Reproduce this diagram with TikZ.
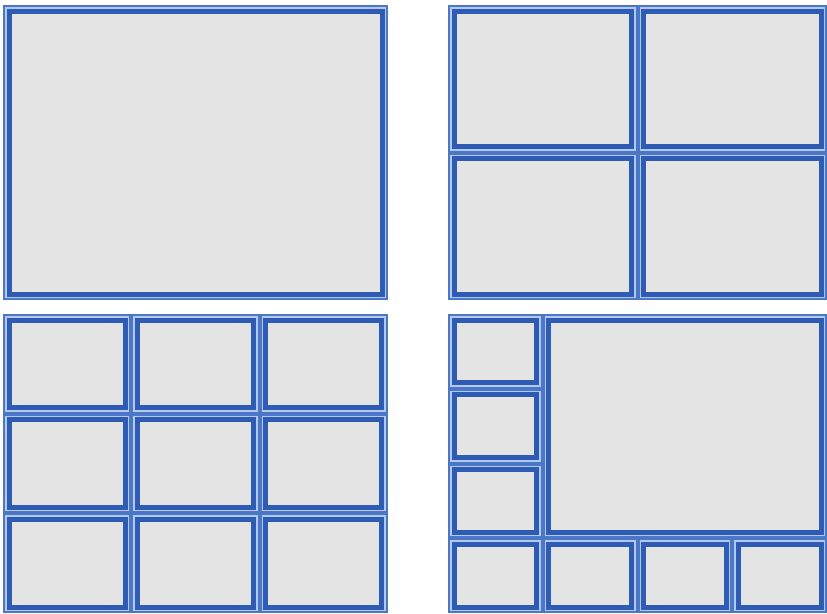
\documentclass[tikz,border=0pt]{standalone}
\usepackage{tikz}
\usetikzlibrary{calc}

\definecolor{paneline}{HTML}{4B78C6}
\definecolor{panegap}{HTML}{B4C8EC}
\definecolor{paneframe}{HTML}{2E5CB4}
\definecolor{panefill}{HTML}{E4E4E4}

% one window pane: corners in pixels, y pointing down
\newcommand{\windowpane}[4]{%
  \fill[paneline] (#1,#2) rectangle (#3,#4);
  \fill[panegap] ($(#1,#2)+(2,2)$) rectangle ($(#3,#4)+(-2,-2)$);
  \fill[paneframe] ($(#1,#2)+(3.5,3.5)$) rectangle ($(#3,#4)+(-3.5,-3.5)$);
  \fill[panefill] ($(#1,#2)+(8.5,8.5)$) rectangle ($(#3,#4)+(-8.5,-8.5)$);
}

\begin{document}
\begin{tikzpicture}[x=1pt, y=-1pt]
  \useasboundingbox[fill=white] (0,0) rectangle (827,613);

  % single view
  \windowpane{3}{5}{388}{300}

  % two by two
  \foreach \i in {0,1} {
    \foreach \j in {0,1} {
      \pgfmathsetmacro{\xa}{448+189.5*\i}
      \pgfmathsetmacro{\ya}{5+147.5*\j}
      \windowpane{\xa}{\ya}{\xa+189.5}{\ya+147.5}
    }
  }

  % three by three
  \foreach \i in {0,1,2} {
    \foreach \j in {0,1,2} {
      \pgfmathsetmacro{\xa}{3+128.33*\i}
      \pgfmathsetmacro{\ya}{314+99.67*\j}
      \windowpane{\xa}{\ya}{\xa+128.33}{\ya+99.67}
    }
  }

  % one large and seven small
  \windowpane{542.75}{314}{827}{538.25}
  \foreach \i/\j in {0/0, 0/1, 0/2, 0/3, 1/3, 2/3, 3/3} {
    \pgfmathsetmacro{\xa}{448+94.75*\i}
    \pgfmathsetmacro{\ya}{314+74.75*\j}
    \windowpane{\xa}{\ya}{\xa+94.75}{\ya+74.75}
  }
\end{tikzpicture}
\end{document}
